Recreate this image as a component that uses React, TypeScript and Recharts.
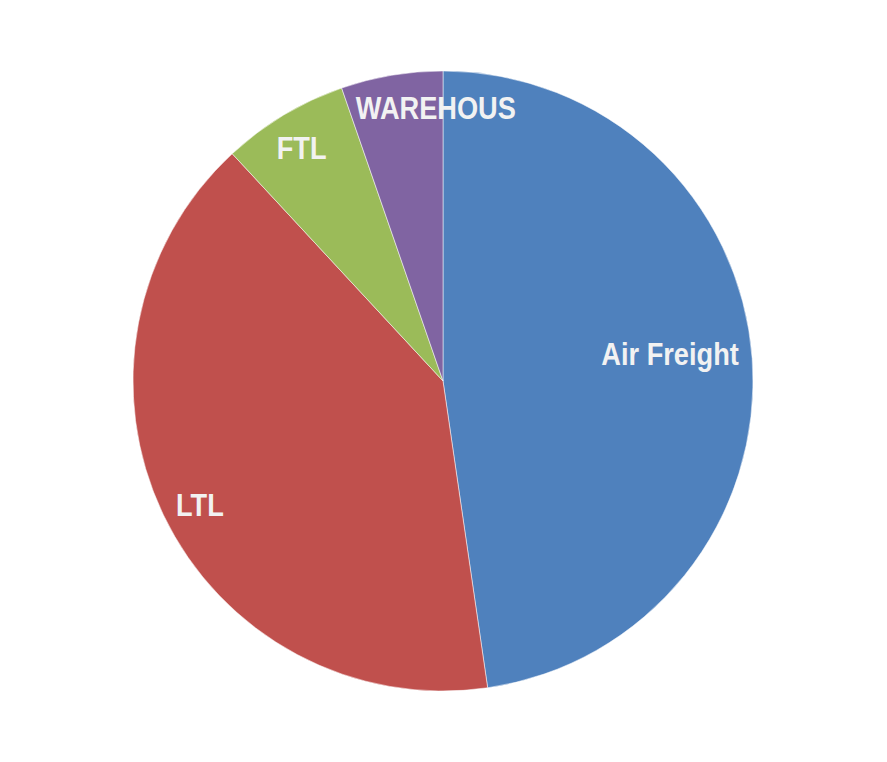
import { Cell, Pie, PieChart } from "recharts"

const categories = ["Air Freight", "LTL", "FTL", "WAREHOUS"]
const shares = [47.7, 40.4, 6.6, 5.3]
const colors = ["#4F81BD", "#C0504D", "#9BBB59", "#8064A2"]

const data = categories.map((name, i) => ({ name, value: shares[i] }))

// small nudges so the labels sit where the original "best fit" put them
const nudge: Record<string, [number, number]> = {
  "Air Freight": [-45, -8],
  LTL: [3, 6],
  FTL: [-1, 1],
  WAREHOUS: [38, -4],
}

const RADIAN = Math.PI / 180

function renderLabel(props: any) {
  const { cx, cy, midAngle, outerRadius, name } = props
  const r = outerRadius * 0.88
  const [dx, dy] = nudge[name] ?? [0, 0]
  const x = cx + r * Math.cos(-midAngle * RADIAN) + dx
  const y = cy + r * Math.sin(-midAngle * RADIAN) + dy
  // narrow bold look: Liberation Sans squeezed horizontally
  return (
    <text
      transform={`translate(${x},${y}) scale(0.85,1)`}
      x={0}
      y={0}
      fill="#F2F2F2"
      textAnchor="middle"
      dominantBaseline="central"
      fontSize={32}
      fontWeight="bold"
      fontFamily="'Liberation Sans', Arial, sans-serif"
    >
      {name}
    </text>
  )
}

export default function App() {
  return (
    <div style={{ position: "absolute", left: 0, top: 0, width: 887, height: 762, background: "#fff" }}>
      <PieChart width={887} height={762} margin={{ top: 0, right: 0, bottom: 0, left: 0 }}>
        <Pie
          data={data}
          dataKey="value"
          nameKey="name"
          cx={443}
          cy={381}
          outerRadius={310}
          startAngle={90}
          endAngle={-270}
          stroke="#ffffff"
          strokeOpacity={0.5}
          strokeWidth={1}
          label={renderLabel}
          labelLine={false}
          isAnimationActive={false}
        >
          {data.map((d, i) => (
            <Cell key={d.name} fill={colors[i]} />
          ))}
        </Pie>
      </PieChart>
    </div>
  )
}
